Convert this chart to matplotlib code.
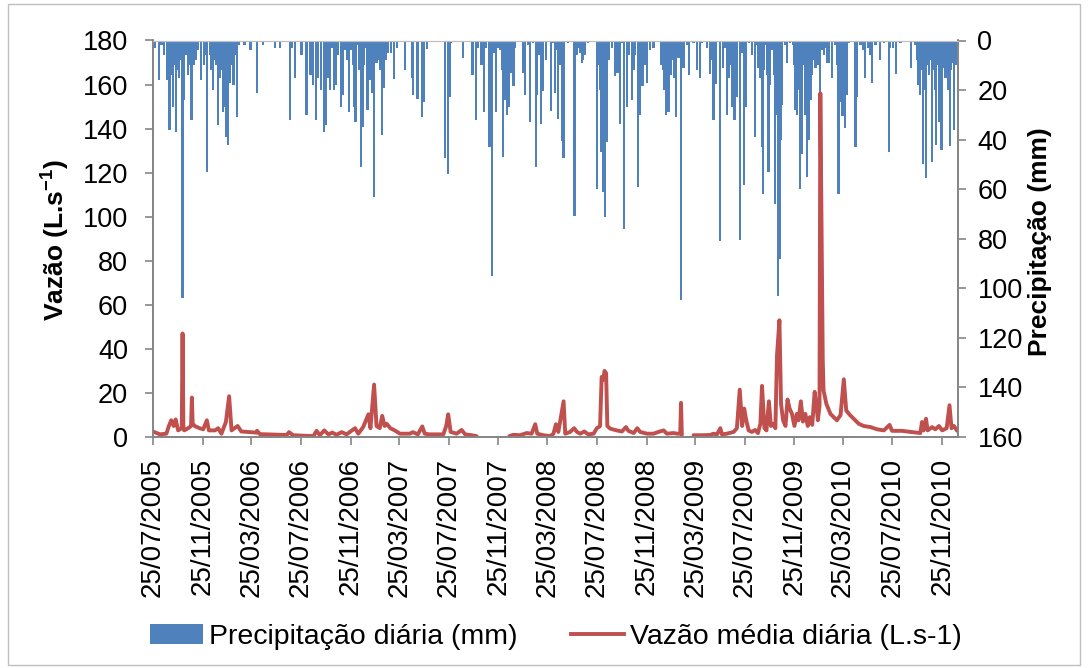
import numpy as np
import pandas as pd
import matplotlib
matplotlib.use("Agg")
import matplotlib.pyplot as plt
from matplotlib.patches import Patch, Rectangle
from matplotlib.lines import Line2D

plt.rcParams["font.family"] = ["Liberation Sans", "DejaVu Sans"]
plt.rcParams["mathtext.fontset"] = "custom"
plt.rcParams["mathtext.rm"] = "Liberation Sans"
plt.rcParams["mathtext.bf"] = "Liberation Sans:bold"

# DAILY PRECIPITATION (mm), grouped by year

precip_2005 = [
    ("2005-07-29", 3), ("2005-08-09", 16), ("2005-08-15", 2), ("2005-08-22", 6),
    ("2005-08-28", 16), ("2005-09-01", 12), ("2005-09-04", 36), ("2005-09-08", 14),
    ("2005-09-12", 27), ("2005-09-15", 10), ("2005-09-19", 37), ("2005-09-23", 12),
    ("2005-09-27", 15), ("2005-10-01", 8), ("2005-10-06", 104), ("2005-10-10", 24),
    ("2005-10-14", 6), ("2005-10-19", 14), ("2005-10-23", 10), ("2005-10-28", 32),
    ("2005-11-03", 10), ("2005-11-09", 8), ("2005-11-14", 4), ("2005-11-20", 16),
    ("2005-11-27", 10), ("2005-12-01", 6), ("2005-12-06", 53), ("2005-12-12", 6),
    ("2005-12-16", 12), ("2005-12-20", 20), ("2005-12-25", 8), ("2005-12-29", 10),
]

precip_2006 = [
    ("2006-01-02", 34), ("2006-01-06", 15), ("2006-01-09", 12), ("2006-01-13", 29),
    ("2006-01-18", 27), ("2006-01-22", 39), ("2006-01-25", 20), ("2006-01-27", 42),
    ("2006-01-31", 17), ("2006-02-04", 10), ("2006-02-09", 18), ("2006-02-13", 6),
    ("2006-02-18", 31), ("2006-02-23", 2), ("2006-03-08", 2), ("2006-03-23", 4),
    ("2006-04-08", 21), ("2006-04-23", 2), ("2006-05-22", 3), ("2006-06-03", 3),
    ("2006-06-28", 32), ("2006-07-03", 3), ("2006-07-10", 15), ("2006-07-27", 6),
    ("2006-08-08", 30), ("2006-08-18", 14), ("2006-08-25", 18), ("2006-09-01", 32),
    ("2006-09-06", 15), ("2006-09-13", 20), ("2006-09-20", 37), ("2006-09-24", 34),
    ("2006-09-30", 15), ("2006-10-05", 20), ("2006-10-10", 3), ("2006-10-15", 20),
    ("2006-10-20", 18), ("2006-10-25", 6), ("2006-11-01", 27), ("2006-11-07", 22),
    ("2006-11-11", 4), ("2006-11-16", 8), ("2006-11-21", 29), ("2006-11-27", 4),
    ("2006-12-01", 10), ("2006-12-04", 27), ("2006-12-07", 33), ("2006-12-13", 2),
    ("2006-12-17", 12), ("2006-12-20", 51), ("2006-12-26", 35), ("2006-12-29", 10),
]

precip_2007 = [
    ("2007-01-01", 3), ("2007-01-06", 28), ("2007-01-12", 16), ("2007-01-17", 21),
    ("2007-01-22", 63), ("2007-01-28", 9), ("2007-02-01", 8), ("2007-02-05", 12),
    ("2007-02-10", 38), ("2007-02-15", 19), ("2007-02-19", 8), ("2007-02-26", 5),
    ("2007-03-05", 5), ("2007-03-13", 15.5), ("2007-03-19", 3), ("2007-04-08", 12),
    ("2007-04-25", 15), ("2007-04-28", 22), ("2007-05-09", 23.5), ("2007-05-21", 31),
    ("2007-05-25", 25), ("2007-06-01", 3.5), ("2007-07-16", 47.5), ("2007-07-23", 54),
    ("2007-07-27", 23), ("2007-07-31", 1), ("2007-08-30", 7), ("2007-09-22", 14),
    ("2007-09-30", 32), ("2007-10-06", 3), ("2007-10-14", 10), ("2007-10-20", 29),
    ("2007-10-25", 3), ("2007-11-03", 43), ("2007-11-10", 95), ("2007-11-14", 5),
    ("2007-11-19", 29), ("2007-11-25", 3), ("2007-11-29", 4), ("2007-12-03", 12),
    ("2007-12-07", 47), ("2007-12-11", 24), ("2007-12-16", 30), ("2007-12-21", 27),
    ("2007-12-25", 13), ("2007-12-28", 8),
]

precip_2008 = [
    ("2008-01-01", 18.5), ("2008-01-05", 3), ("2008-01-26", 13), ("2008-01-30", 22),
    ("2008-02-07", 2), ("2008-02-11", 33), ("2008-02-19", 1), ("2008-02-25", 51),
    ("2008-02-29", 22), ("2008-03-05", 6), ("2008-03-09", 33.5), ("2008-03-15", 20.5),
    ("2008-03-22", 8), ("2008-04-03", 28.5), ("2008-04-09", 1), ("2008-04-13", 21),
    ("2008-04-17", 4), ("2008-04-21", 31.5), ("2008-04-26", 10), ("2008-04-30", 40.6),
    ("2008-05-04", 47.5), ("2008-05-15", 1), ("2008-05-31", 71), ("2008-06-06", 6),
    ("2008-06-10", 3), ("2008-06-14", 5), ("2008-06-18", 9), ("2008-06-21", 8),
    ("2008-06-26", 6), ("2008-07-04", 1), ("2008-07-25", 60), ("2008-07-29", 10),
    ("2008-08-01", 20), ("2008-08-04", 45), ("2008-08-09", 61), ("2008-08-12", 30),
    ("2008-08-15", 71.4), ("2008-08-19", 41), ("2008-08-23", 8), ("2008-09-01", 3),
    ("2008-09-08", 14.5), ("2008-09-14", 13), ("2008-09-21", 33.5), ("2008-09-25", 1),
    ("2008-10-01", 76), ("2008-10-07", 27), ("2008-10-13", 6), ("2008-10-20", 24),
    ("2008-10-25", 12), ("2008-10-28", 6), ("2008-11-03", 59), ("2008-11-09", 30),
    ("2008-11-15", 18.5), ("2008-11-21", 10), ("2008-11-26", 17), ("2008-12-04", 4),
    ("2008-12-12", 3), ("2008-12-31", 10),
]

precip_2009 = [
    ("2009-01-04", 12), ("2009-01-08", 20), ("2009-01-12", 30), ("2009-01-15", 18),
    ("2009-01-18", 29), ("2009-01-22", 8), ("2009-01-25", 14), ("2009-01-28", 8),
    ("2009-02-02", 15), ("2009-02-06", 31), ("2009-02-12", 7), ("2009-02-18", 104.6),
    ("2009-02-24", 11), ("2009-03-05", 2), ("2009-03-09", 14), ("2009-03-21", 1),
    ("2009-03-29", 12), ("2009-04-06", 15), ("2009-04-11", 1), ("2009-04-23", 3),
    ("2009-05-01", 13.5), ("2009-05-05", 8), ("2009-05-09", 32), ("2009-05-14", 17.5),
    ("2009-05-26", 81), ("2009-06-01", 11), ("2009-06-06", 3), ("2009-06-11", 30),
    ("2009-06-15", 15), ("2009-06-18", 10), ("2009-06-22", 4), ("2009-06-25", 27),
    ("2009-06-30", 32), ("2009-07-03", 12), ("2009-07-06", 23), ("2009-07-13", 80.6),
    ("2009-07-19", 5), ("2009-07-24", 58.4), ("2009-07-29", 27), ("2009-08-05", 1),
    ("2009-08-12", 6), ("2009-08-19", 39), ("2009-08-23", 2), ("2009-08-28", 11),
    ("2009-09-02", 15), ("2009-09-06", 43), ("2009-09-08", 62), ("2009-09-11", 12),
    ("2009-09-14", 2), ("2009-09-18", 14), ("2009-09-22", 53), ("2009-09-26", 18),
    ("2009-10-02", 4), ("2009-10-05", 14), ("2009-10-09", 66), ("2009-10-12", 30),
    ("2009-10-15", 103.3), ("2009-10-19", 88), ("2009-10-22", 40), ("2009-10-25", 26),
    ("2009-11-03", 2), ("2009-11-07", 9), ("2009-11-15", 1), ("2009-11-21", 2),
    ("2009-11-24", 10), ("2009-11-27", 28), ("2009-12-01", 30), ("2009-12-04", 20),
    ("2009-12-08", 60), ("2009-12-11", 25), ("2009-12-14", 46), ("2009-12-19", 10),
    ("2009-12-22", 30), ("2009-12-26", 55), ("2009-12-30", 40),
]

precip_2010 = [
    ("2010-01-04", 24), ("2010-01-08", 14), ("2010-01-12", 8), ("2010-01-16", 11),
    ("2010-01-22", 10), ("2010-01-28", 21), ("2010-02-01", 4), ("2010-02-06", 6),
    ("2010-02-10", 3), ("2010-02-14", 9), ("2010-02-19", 9), ("2010-02-26", 15),
    ("2010-03-06", 2), ("2010-03-11", 10), ("2010-03-14", 62), ("2010-03-18", 25),
    ("2010-03-21", 20), ("2010-03-24", 30.5), ("2010-03-29", 35.5), ("2010-04-04", 22),
    ("2010-04-08", 1), ("2010-04-25", 43), ("2010-04-29", 23), ("2010-05-07", 2),
    ("2010-05-13", 4), ("2010-05-19", 15), ("2010-05-26", 3), ("2010-06-01", 6),
    ("2010-06-05", 17), ("2010-06-13", 2), ("2010-06-24", 8), ("2010-07-04", 1),
    ("2010-07-16", 45), ("2010-07-20", 3), ("2010-07-26", 3), ("2010-08-03", 13.5),
    ("2010-08-14", 1), ("2010-09-08", 11), ("2010-09-20", 2), ("2010-09-24", 8),
    ("2010-09-27", 18), ("2010-10-02", 22), ("2010-10-05", 12), ("2010-10-08", 50),
    ("2010-10-12", 20), ("2010-10-16", 55.5), ("2010-10-20", 10), ("2010-10-23", 14),
    ("2010-10-27", 8), ("2010-10-31", 49), ("2010-11-04", 12), ("2010-11-07", 20),
    ("2010-11-10", 42), ("2010-11-14", 10), ("2010-11-17", 33), ("2010-11-20", 12),
    ("2010-11-23", 44), ("2010-11-26", 9), ("2010-11-29", 11), ("2010-12-03", 15),
    ("2010-12-07", 10), ("2010-12-10", 20), ("2010-12-14", 42.5), ("2010-12-17", 12),
    ("2010-12-20", 9), ("2010-12-24", 36), ("2010-12-28", 10), ("2010-12-31", 8),
]

# DAILY MEAN FLOW (L/s); nan marks missing records

nan = np.nan

flow_2005 = [
    ("2005-07-25", 2.5), ("2005-08-11", 1.2), ("2005-08-27", 1.5), ("2005-09-02", 4.9),
    ("2005-09-08", 7.6), ("2005-09-14", 5), ("2005-09-19", 8), ("2005-09-25", 3),
    ("2005-10-04", 4), ("2005-10-06", 47), ("2005-10-08", 5), ("2005-10-10", 3),
    ("2005-10-20", 4), ("2005-10-27", 5), ("2005-10-29", 17.9), ("2005-10-31", 6),
    ("2005-11-05", 5), ("2005-11-17", 4), ("2005-11-26", 3.5), ("2005-12-05", 7.6),
    ("2005-12-10", 3), ("2005-12-25", 3),
]

flow_2006 = [
    ("2006-01-02", 4), ("2006-01-10", 1.5), ("2006-01-21", 6.8), ("2006-01-29", 18.5),
    ("2006-02-04", 3), ("2006-02-19", 5), ("2006-02-28", 2.5), ("2006-04-07", 2.0),
    ("2006-04-08", 2.8), ("2006-04-15", 1.3), ("2006-06-20", 0.9), ("2006-06-26", 2.2),
    ("2006-07-06", 0.8), ("2006-08-25", 0.4), ("2006-09-02", 2.8), ("2006-09-10", 0.8),
    ("2006-09-21", 3), ("2006-10-01", 1.2), ("2006-10-11", 2), ("2006-10-21", 1),
    ("2006-11-03", 2.2), ("2006-11-15", 1.2), ("2006-12-06", 4), ("2006-12-14", 1.5),
    ("2006-12-26", 4.5),
]

flow_2007 = [
    ("2007-01-08", 10.3), ("2007-01-13", 4), ("2007-01-22", 23.8), ("2007-01-28", 5),
    ("2007-02-05", 4), ("2007-02-11", 9.6), ("2007-02-17", 5), ("2007-02-22", 6),
    ("2007-03-03", 4), ("2007-03-14", 3), ("2007-03-27", 1.5), ("2007-04-20", 1.5),
    ("2007-04-28", 2.2), ("2007-05-10", 1.2), ("2007-05-21", 4.8), ("2007-05-27", 1.5),
    ("2007-06-08", 1.2), ("2007-07-12", 1.2), ("2007-07-19", 4.9), ("2007-07-24", 10.3),
    ("2007-07-30", 2.3), ("2007-08-14", 1.5), ("2007-08-26", 3.2), ("2007-09-04", 1.2),
    ("2007-09-20", 0.8), ("2007-10-02", 0.4), ("2007-10-03", nan), ("2007-12-22", 0.4),
]

flow_2008 = [
    ("2008-01-01", 1), ("2008-01-17", 0.8), ("2008-02-03", 1.8), ("2008-02-15", 1.5),
    ("2008-02-24", 5.8), ("2008-02-29", 1.5), ("2008-03-15", 0.8), ("2008-04-01", 0.4),
    ("2008-04-09", 1.5), ("2008-04-15", 5.8), ("2008-04-21", 2.3), ("2008-05-04", 16.2),
    ("2008-05-08", 1.5), ("2008-05-20", 2.3), ("2008-05-30", 4), ("2008-06-06", 2.3),
    ("2008-06-14", 1.5), ("2008-06-24", 2.5), ("2008-07-04", 1.2), ("2008-07-17", 1.5),
    ("2008-07-25", 4), ("2008-08-02", 4.9), ("2008-08-06", 27.3), ("2008-08-10", 26),
    ("2008-08-13", 30), ("2008-08-17", 29), ("2008-08-20", 5), ("2008-08-27", 3.8),
    ("2008-09-12", 3), ("2008-09-25", 2.5), ("2008-10-05", 4.5), ("2008-10-11", 2.8),
    ("2008-10-24", 1.8), ("2008-11-02", 4), ("2008-11-09", 2.3), ("2008-11-26", 1.5),
    ("2008-12-12", 1.5), ("2008-12-24", 2.3),
]

flow_2009 = [
    ("2009-01-06", 3), ("2009-01-14", 1.5), ("2009-01-30", 1.8), ("2009-02-09", 1.5),
    ("2009-02-16", 1.5), ("2009-02-18", 15.5), ("2009-02-20", 1), ("2009-02-21", nan),
    ("2009-03-21", 0.8), ("2009-04-06", 0.8), ("2009-05-01", 0.9), ("2009-05-09", 1.5),
    ("2009-05-18", 1.2), ("2009-05-26", 4), ("2009-05-30", 1.2), ("2009-06-11", 1.5),
    ("2009-06-28", 2.3), ("2009-07-06", 4), ("2009-07-13", 21.5), ("2009-07-19", 5),
    ("2009-07-24", 12.9), ("2009-07-29", 7.6), ("2009-08-04", 3), ("2009-08-12", 2.3),
    ("2009-08-20", 3.2), ("2009-08-27", 1.8), ("2009-09-02", 6), ("2009-09-06", 23.2),
    ("2009-09-12", 4), ("2009-09-17", 3), ("2009-09-23", 16.2), ("2009-09-28", 5),
    ("2009-10-03", 6), ("2009-10-09", 4), ("2009-10-13", 37), ("2009-10-19", 53),
    ("2009-10-23", 15), ("2009-10-28", 7.6), ("2009-11-03", 5), ("2009-11-08", 17),
    ("2009-11-13", 13), ("2009-11-19", 10.5), ("2009-11-25", 5), ("2009-12-01", 10.5),
    ("2009-12-05", 7.6), ("2009-12-11", 16.2), ("2009-12-16", 7), ("2009-12-22", 10.5),
    ("2009-12-28", 5),
]

flow_2010 = [
    ("2010-01-02", 9), ("2010-01-08", 5.5), ("2010-01-14", 20.5), ("2010-01-18", 15),
    ("2010-01-22", 7.6), ("2010-01-26", 14), ("2010-01-28", 156), ("2010-02-03", 35),
    ("2010-02-05", 21), ("2010-02-12", 15), ("2010-02-22", 10.5), ("2010-03-02", 9),
    ("2010-03-10", 7.6), ("2010-03-19", 10), ("2010-03-27", 26.2), ("2010-04-02", 12),
    ("2010-04-11", 10), ("2010-04-22", 8), ("2010-05-03", 6), ("2010-05-15", 5),
    ("2010-06-01", 4.5), ("2010-06-17", 3.5), ("2010-07-04", 3), ("2010-07-18", 5.5),
    ("2010-07-24", 2.8), ("2010-08-18", 2.8), ("2010-09-08", 2.3), ("2010-10-02", 1.8),
    ("2010-10-06", 6.8), ("2010-10-10", 3), ("2010-10-16", 8.3), ("2010-10-20", 3),
    ("2010-10-31", 4.5), ("2010-11-08", 3.5), ("2010-11-17", 5), ("2010-11-25", 3),
    ("2010-12-06", 4), ("2010-12-13", 14.4), ("2010-12-18", 4), ("2010-12-24", 5),
    ("2011-01-01", 2.8),
]

# AXES TEXT

tick_labels = [
    "25/07/2005", "25/11/2005", "25/03/2006", "25/07/2006", "25/11/2006",
    "25/03/2007", "25/07/2007", "25/11/2007", "25/03/2008", "25/07/2008",
    "25/11/2008", "25/03/2009", "25/07/2009", "25/11/2009", "25/03/2010",
    "25/07/2010", "25/11/2010",
]

flow_ticks = [0, 20, 40, 60, 80, 100, 120, 140, 160, 180]
precip_ticks = [0, 20, 40, 60, 80, 100, 120, 140, 160]

BLUE = "#4F81BD"
RED = "#C0504D"
GRAY = "#868686"


def main():

    # COLLECT SERIES

    precip = pd.DataFrame(
        precip_2005 + precip_2006 + precip_2007 + precip_2008 + precip_2009 + precip_2010,
        columns=["date", "mm"]
    )
    precip["date"] = pd.to_datetime(precip["date"])

    flow = pd.DataFrame(
        flow_2005 + flow_2006 + flow_2007 + flow_2008 + flow_2009 + flow_2010,
        columns=["date", "ls"]
    )
    flow["date"] = pd.to_datetime(flow["date"])

    # FIGURE

    fig = plt.figure(figsize=(10.88, 6.68), dpi=100)

    fig.patches.append(
        Rectangle(
            (8 / 1088, 3 / 668), 1072 / 1088, 661 / 668,
            transform=fig.transFigure,
            fill=False, edgecolor="#BFBFBF", linewidth=1
        )
    )

    ax1 = fig.add_axes([153 / 1088, 1 - 437 / 668, 805 / 1088, 396.5 / 668])
    ax2 = ax1.twinx()

    # PRECIPITATION BARS (secondary, inverted)

    ax2.bar(
        precip["date"], precip["mm"],
        width=5.5, color=BLUE, linewidth=0, align="center"
    )
    ax2.set_ylim(160, 0)
    ax2.set_yticks(precip_ticks)

    # FLOW LINE (primary, drawn on top)

    ax1.plot(
        flow["date"], flow["ls"],
        color=RED, linewidth=2.8, solid_joinstyle="round", solid_capstyle="round"
    )
    ax1.set_ylim(0, 180)
    ax1.set_yticks(flow_ticks)

    ax1.set_zorder(ax2.get_zorder() + 1)
    ax1.patch.set_visible(False)

    # X AXIS

    tick_dates = pd.to_datetime(tick_labels, format="%d/%m/%Y")
    ax1.set_xlim(pd.Timestamp("2005-07-25"), pd.Timestamp("2011-01-03"))
    ax1.set_xticks(tick_dates)
    ax1.set_xticklabels(tick_labels, rotation=90)

    # STYLING

    for ax in (ax1, ax2):
        for side in ("left", "right", "bottom"):
            ax.spines[side].set_color(GRAY)
            ax.spines[side].set_linewidth(1.3)
        ax.spines["top"].set_color("#BFBFBF")

    ax1.tick_params(axis="y", length=6, width=1.2, color=GRAY, labelsize=19.5, pad=12)
    ax1.tick_params(axis="x", length=6, width=1.2, color=GRAY, labelsize=20, pad=9)
    ax2.tick_params(axis="y", length=6, width=1.2, color=GRAY, labelsize=19.5, pad=8)

    fig.text(
        55 / 1088, 1 - 240 / 668, r"Vazão (L.s$^{\mathbf{-1}}$)",
        rotation=90, ha="center", va="center", fontsize=19, fontweight="bold"
    )
    fig.text(
        1040 / 1088, 1 - 242 / 668, "Precipitação (mm)",
        rotation=90, ha="center", va="center", fontsize=19, fontweight="bold"
    )

    # LEGEND

    handles = [
        Patch(facecolor=BLUE, edgecolor="none"),
        Line2D([0], [0], color=RED, linewidth=2.8),
    ]
    fig.legend(
        handles,
        ["Precipitação diária (mm)", "Vazão média diária (L.s-1)"],
        loc="center", bbox_to_anchor=(556 / 1088, 1 - 637 / 668),
        ncol=2, frameon=False, fontsize=20.5,
        handlelength=1.85, handleheight=0.65, handletextpad=0.2, columnspacing=1.9
    )

    # SAVE IMAGE

    fig.savefig("out.png", dpi=100)


if __name__ == "__main__":

    main()
